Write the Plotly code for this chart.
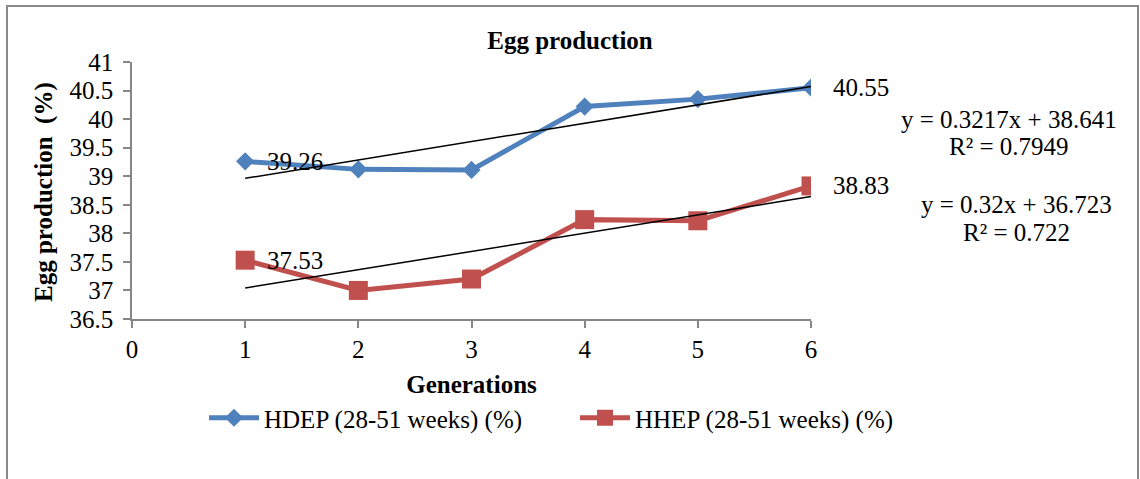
import plotly.graph_objects as go

# ---- data ----
generations = [1, 2, 3, 4, 5, 6]
hdep = [39.26, 39.12, 39.11, 40.22, 40.35, 40.55]
hhep = [37.53, 37.00, 37.20, 38.24, 38.22, 38.83]
series_names = ["HDEP (28-51 weeks) (%)", "HHEP (28-51 weeks) (%)"]
trend_slope = [0.3217, 0.32]
trend_intercept = [38.641, 36.723]
trend_r2 = ["0.7949", "0.722"]
y_ticks = [36.5, 37, 37.5, 38, 38.5, 39, 39.5, 40, 40.5, 41]
x_ticks = [0, 1, 2, 3, 4, 5, 6]

# ---- geometry ----
W, H = 1140, 479
ML, MR, MT, MB = 132, 329, 62, 160
PW, PH = W - ML - MR, H - MT - MB


def px_x(px):
    return (px - ML) / PW


def px_y(py):
    return (H - MB - py) / PH


FONT = "Liberation Serif"
FS = 25
BLUE, RED = "#4F81BD", "#C0504D"
AXIS_GREY = "#868686"
LABEL_GAP = "\u2009"  # space between y tick labels and tick marks

fig = go.Figure()

fig.add_trace(go.Scatter(
    x=generations, y=hdep, name=series_names[0], mode="lines+markers",
    line=dict(color=BLUE, width=5),
    marker=dict(symbol="diamond", size=14, color=BLUE),
    legend="legend",
))
fig.add_trace(go.Scatter(
    x=generations, y=hhep, name=series_names[1], mode="lines+markers",
    line=dict(color=RED, width=5),
    marker=dict(symbol="square", size=19, color=RED),
    legend="legend2",
))

# linear trend lines
for m, b in zip(trend_slope, trend_intercept):
    xs = [generations[0], generations[-1]]
    fig.add_trace(go.Scatter(
        x=xs, y=[m * x + b for x in xs], mode="lines",
        line=dict(color="black", width=1.5), showlegend=False, hoverinfo="skip",
    ))

# value labels at first and last generation
annotations = []
for vals in (hdep, hhep):
    for i in (0, len(vals) - 1):
        annotations.append(dict(
            x=generations[i], y=vals[i], xref="x", yref="y",
            text=f"{vals[i]:.2f}", showarrow=False,
            xanchor="left", yanchor="middle", xshift=20,
            font=dict(family=FONT, size=FS, color="black"),
        ))

# trend equations
eq_pos = [(1009, 119, 146), (1016, 204, 232)]
for (cx, y1, y2), m, b, r2 in zip(eq_pos, trend_slope, trend_intercept, trend_r2):
    annotations.append(dict(
        x=px_x(cx), y=px_y(y1), xref="paper", yref="paper",
        text=f"y = {m}x + {b}", showarrow=False,
        xanchor="center", yanchor="middle",
        font=dict(family=FONT, size=FS, color="black"),
    ))
    annotations.append(dict(
        x=px_x(cx), y=px_y(y2), xref="paper", yref="paper",
        text=f"R² = {r2}", showarrow=False,
        xanchor="center", yanchor="middle",
        font=dict(family=FONT, size=FS, color="black"),
    ))

# vertical y-axis title
annotations.append(dict(
    x=px_x(44), y=px_y(192), xref="paper", yref="paper",
    text="<b>Egg production  (%)</b>", textangle=-90, showarrow=False,
    xanchor="center", yanchor="middle",
    font=dict(family=FONT, size=FS, color="black"),
))

legend_style = dict(
    orientation="h", xanchor="left", yanchor="middle",
    font=dict(family=FONT, size=FS, color="black"),
    bgcolor="rgba(0,0,0,0)", itemwidth=50,
)

fig.update_layout(
    width=W, height=H,
    margin=dict(l=ML, r=MR, t=MT, b=MB),
    paper_bgcolor="white", plot_bgcolor="white",
    font=dict(family=FONT, size=FS, color="black"),
    title=dict(
        text="<b>Egg production</b>", x=0.5, xref="container", xanchor="center",
        y=1 - 40 / H, yref="container", yanchor="middle",
        font=dict(family=FONT, size=FS, color="black"),
    ),
    xaxis=dict(
        range=[0, 6], tickvals=x_ticks, showgrid=False, zeroline=False,
        showline=True, linecolor=AXIS_GREY, linewidth=1.5,
        ticks="outside", ticklen=7, tickcolor=AXIS_GREY, tickwidth=1.5,
        title=dict(text="<b>Generations</b>", standoff=14,
                   font=dict(family=FONT, size=FS)),
        tickfont=dict(family=FONT, size=FS),
    ),
    yaxis=dict(
        range=[36.5, 41], tickvals=y_ticks,
        ticktext=[f"{v:g}{LABEL_GAP}" for v in y_ticks],
        showgrid=False, zeroline=False,
        showline=True, linecolor=AXIS_GREY, linewidth=1.5,
        ticks="outside", ticklen=7, tickcolor=AXIS_GREY, tickwidth=1.5,
        tickfont=dict(family=FONT, size=FS),
    ),
    legend=dict(x=px_x(204), y=px_y(418), **legend_style),
    legend2=dict(x=px_x(575), y=px_y(418), **legend_style),
    annotations=annotations,
    shapes=[dict(
        type="rect", xref="paper", yref="paper",
        x0=px_x(7), x1=px_x(1138), y0=px_y(484), y1=px_y(6),
        line=dict(color="#898989", width=2), fillcolor="rgba(0,0,0,0)", layer="below",
    )],
)

fig.write_html("out.html")
